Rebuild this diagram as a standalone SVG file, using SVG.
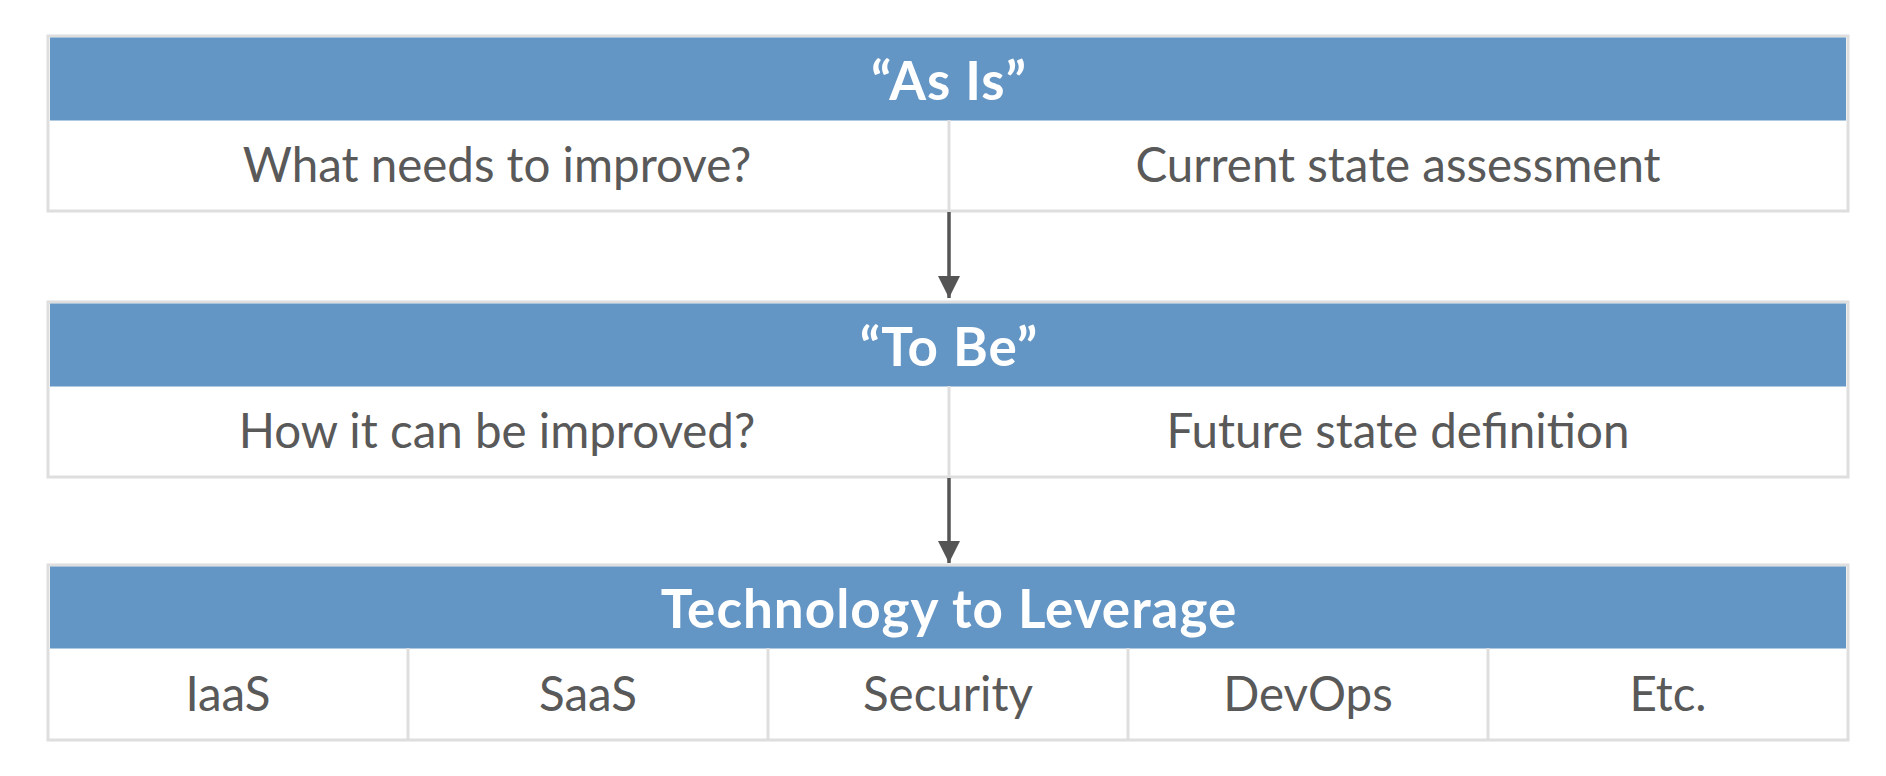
<svg xmlns="http://www.w3.org/2000/svg" width="1886" height="776" viewBox="0 0 1886 776">
<style>
.frame{fill:#ffffff;stroke:#dedede;stroke-width:3}
.head{fill:#6395c5}
.div{stroke:#dedede;stroke-width:3}
.ht{font-family:Lato,"Open Sans",sans-serif;font-weight:bold;font-size:53px;letter-spacing:1px;fill:#ffffff;text-anchor:middle}
.ct{font-family:Lato,"Open Sans",sans-serif;font-size:47.5px;fill:#595959;text-anchor:middle}
.arr{stroke:#555555;stroke-width:3.5;fill:none}
</style>
<defs>
<marker id="ah" markerUnits="userSpaceOnUse" markerWidth="24" markerHeight="22" refX="22" refY="11" orient="auto">
<path d="M0,0 L22,11 L0,22 Z" fill="#555555"/>
</marker>
</defs>
<rect width="1886" height="776" fill="#ffffff"/>
<g id="as-is">
<rect class="frame" x="48" y="36" width="1800" height="175"/>
<rect class="head" x="50" y="37.5" width="1796" height="83"/>
<line class="div" x1="949" y1="120" x2="949" y2="211"/>
<text class="ht" x="949" y="100">“As Is”</text>
<text class="ct" x="497" y="182">What needs to improve?</text>
<text class="ct" x="1398" y="182">Current state assessment</text>
</g>
<g id="to-be">
<rect class="frame" x="48" y="302" width="1800" height="175"/>
<rect class="head" x="50" y="303.5" width="1796" height="83"/>
<line class="div" x1="949" y1="386" x2="949" y2="477"/>
<text class="ht" x="949" y="366">“To Be”</text>
<text class="ct" x="497" y="448">How it can be improved?</text>
<text class="ct" x="1398" y="448">Future state definition</text>
</g>
<g id="technology">
<rect class="frame" x="48" y="565" width="1800" height="175"/>
<rect class="head" x="50" y="566.5" width="1796" height="82"/>
<line class="div" x1="408" y1="648" x2="408" y2="740"/>
<line class="div" x1="768" y1="648" x2="768" y2="740"/>
<line class="div" x1="1128" y1="648" x2="1128" y2="740"/>
<line class="div" x1="1488" y1="648" x2="1488" y2="740"/>
<text class="ht" x="949" y="628">Technology to Leverage</text>
<text class="ct" x="228" y="711">IaaS</text>
<text class="ct" x="588" y="711">SaaS</text>
<text class="ct" x="948" y="711">Security</text>
<text class="ct" x="1308" y="711">DevOps</text>
<text class="ct" x="1668" y="711">Etc.</text>
</g>
<g id="connectors">
<line class="arr" x1="949" y1="212" x2="949" y2="298" marker-end="url(#ah)"/>
<line class="arr" x1="949" y1="478" x2="949" y2="563" marker-end="url(#ah)"/>
</g>
</svg>
